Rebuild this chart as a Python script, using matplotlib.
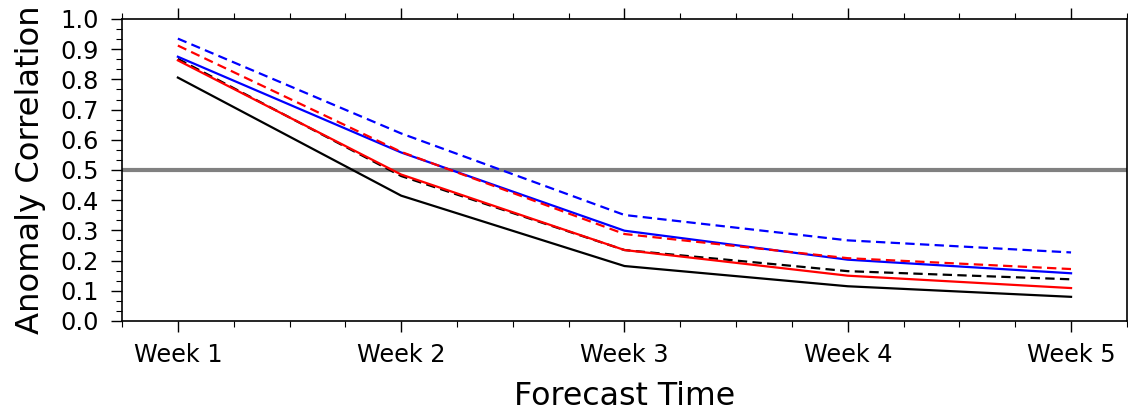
import matplotlib
matplotlib.use("Agg")
import matplotlib.pyplot as plt
from matplotlib.ticker import MultipleLocator, FormatStrFormatter

weeks = ["Week 1", "Week 2", "Week 3", "Week 4", "Week 5"]
x = [1, 2, 3, 4, 5]

black_solid = [0.806, 0.415, 0.182, 0.115, 0.080]
black_dashed = [0.868, 0.480, 0.235, 0.165, 0.138]
blue_solid = [0.875, 0.558, 0.299, 0.203, 0.158]
blue_dashed = [0.935, 0.621, 0.351, 0.267, 0.227]
red_solid = [0.863, 0.485, 0.235, 0.150, 0.109]
red_dashed = [0.912, 0.560, 0.288, 0.208, 0.172]

plt.rcParams["font.family"] = ["DejaVu Sans"]

fig = plt.figure(figsize=(11.28, 4.12), dpi=100)
ax = fig.add_axes([0.1082, 0.2209, 0.8908, 0.733])

ax.axhline(0.5, color="#808080", lw=3.0, zorder=1)

dash = (0, (4.2, 2.4))
lw = 1.6
ax.plot(x, black_solid, color="black", lw=lw, zorder=2)
ax.plot(x, black_dashed, color="black", lw=lw, ls=dash, zorder=2)
ax.plot(x, blue_solid, color="#0000ff", lw=lw, zorder=3)
ax.plot(x, blue_dashed, color="#0000ff", lw=lw, ls=dash, zorder=3)
ax.plot(x, red_solid, color="#ff0000", lw=lw, zorder=4)
ax.plot(x, red_dashed, color="#ff0000", lw=lw, ls=dash, zorder=4)

ax.set_xlim(0.75, 5.25)
ax.set_ylim(0.0, 1.0)

ax.set_xticks(x)
ax.set_xticklabels(weeks)
ax.xaxis.set_minor_locator(MultipleLocator(0.25))
ax.yaxis.set_major_locator(MultipleLocator(0.1))
ax.yaxis.set_minor_locator(MultipleLocator(0.1 / 3))
ax.yaxis.set_major_formatter(FormatStrFormatter("%.1f"))

for s in ax.spines.values():
    s.set_linewidth(1.2)

ax.tick_params(axis="both", which="major", direction="out", length=8, width=1.0,
               labelsize=17.3, top=True, right=False)
ax.tick_params(axis="both", which="minor", direction="out", length=4, width=0.8,
               top=True, right=False)
ax.tick_params(axis="x", which="major", pad=8)
ax.tick_params(axis="y", which="major", pad=9)

ax.set_xlabel("Forecast Time", fontsize=22.8, labelpad=10)
ax.set_ylabel("Anomaly Correlation", fontsize=23.2, labelpad=10)

fig.savefig("out.png", dpi=100)
